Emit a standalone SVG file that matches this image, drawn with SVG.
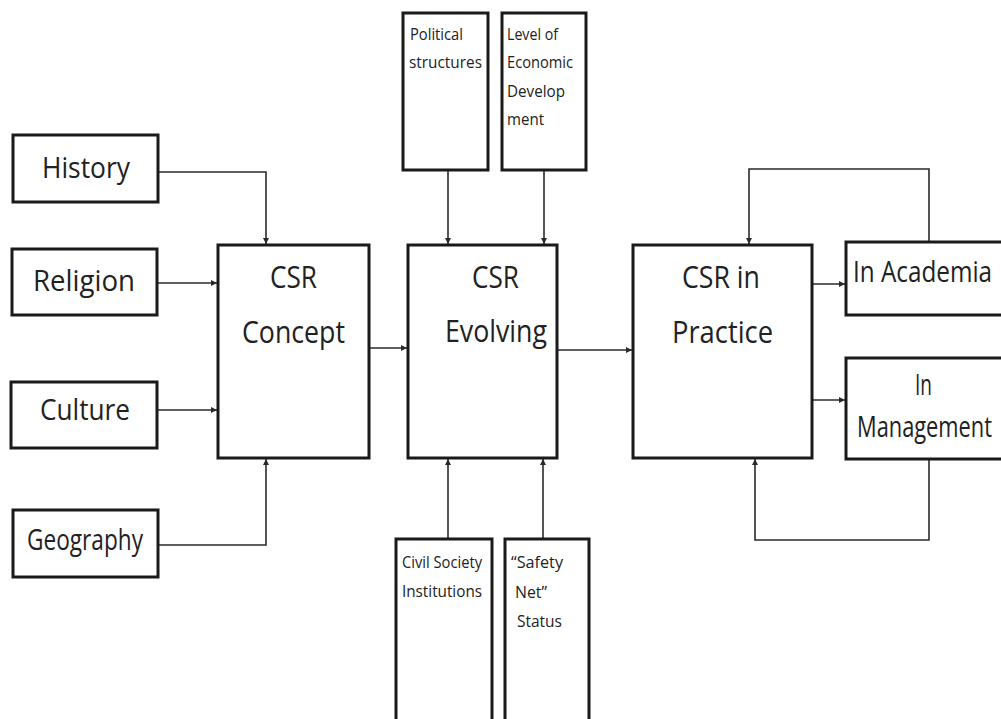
<svg xmlns="http://www.w3.org/2000/svg" width="1001" height="719" viewBox="0 0 1001 719">
<defs>
<style>
.box{fill:#fff;stroke:#1a1a1a;stroke-width:3}
.con{fill:none;stroke:#2a2a2a;stroke-width:1.6}
.big{font-family:"Open Sans","Liberation Sans",sans-serif;font-size:31px;fill:#222}
.mid{font-family:"Open Sans","Liberation Sans",sans-serif;font-size:29px;fill:#222}
.sm{font-family:"Open Sans","Liberation Sans",sans-serif;font-size:16px;fill:#222}
</style>
<marker id="ah" viewBox="0 0 10 10" refX="10" refY="5" markerWidth="6" markerHeight="6" orient="auto" markerUnits="userSpaceOnUse">
<path d="M0,0 L10,5 L0,10 z" fill="#2a2a2a"/>
</marker>
</defs>
<rect width="1001" height="719" fill="#fff"/>
<g id="connectors">
<path class="con" d="M158,172 H266 V244" marker-end="url(#ah)"/>
<path class="con" d="M157,283 H217" marker-end="url(#ah)"/>
<path class="con" d="M157,410 H217" marker-end="url(#ah)"/>
<path class="con" d="M158,545 H266 V459" marker-end="url(#ah)"/>
<path class="con" d="M369,348 H407" marker-end="url(#ah)"/>
<path class="con" d="M448,170 V244" marker-end="url(#ah)"/>
<path class="con" d="M544,170 V244" marker-end="url(#ah)"/>
<path class="con" d="M448,539 V459" marker-end="url(#ah)"/>
<path class="con" d="M543,539 V459" marker-end="url(#ah)"/>
<path class="con" d="M557,350 H632" marker-end="url(#ah)"/>
<path class="con" d="M812,284 H845" marker-end="url(#ah)"/>
<path class="con" d="M812,400 H845" marker-end="url(#ah)"/>
<path class="con" d="M929,242 V169 H749 V244" marker-end="url(#ah)"/>
<path class="con" d="M929,459 V540 H755 V459" marker-end="url(#ah)"/>
</g>
<g id="history"><rect class="box" x="13" y="135" width="145" height="67"/><text class="mid" x="42" y="178" textLength="88" lengthAdjust="spacingAndGlyphs">History</text></g>
<g id="religion"><rect class="box" x="12" y="249" width="145" height="66"/><text class="mid" x="33" y="291" textLength="102" lengthAdjust="spacingAndGlyphs">Religion</text></g>
<g id="culture"><rect class="box" x="11" y="382" width="146" height="66"/><text class="mid" x="40" y="420" textLength="90" lengthAdjust="spacingAndGlyphs">Culture</text></g>
<g id="geography"><rect class="box" x="13" y="510" width="145" height="67"/><text class="mid" x="27" y="550" font-size="26" textLength="116" lengthAdjust="spacingAndGlyphs">Geography</text></g>
<g id="csr-concept"><rect class="box" x="218" y="245" width="151" height="213"/><text class="big" x="270" y="288" textLength="47" lengthAdjust="spacingAndGlyphs">CSR</text><text class="big" x="242" y="343" textLength="103" lengthAdjust="spacingAndGlyphs">Concept</text></g>
<g id="csr-evolving"><rect class="box" x="408" y="245" width="149" height="213"/><text class="big" x="472" y="288" textLength="47" lengthAdjust="spacingAndGlyphs">CSR</text><text class="big" x="445" y="342" textLength="102" lengthAdjust="spacingAndGlyphs">Evolving</text></g>
<g id="csr-practice"><rect class="box" x="633" y="245" width="179" height="213"/><text class="big" x="682" y="288" textLength="78" lengthAdjust="spacingAndGlyphs">CSR in</text><text class="big" x="672" y="343" textLength="101" lengthAdjust="spacingAndGlyphs">Practice</text></g>
<g id="political"><rect class="box" x="403" y="13" width="85" height="157"/><text class="sm" x="410" y="40" textLength="53" lengthAdjust="spacingAndGlyphs">Political</text><text class="sm" x="409" y="68" textLength="73" lengthAdjust="spacingAndGlyphs">structures</text></g>
<g id="economic"><rect class="box" x="502" y="13" width="84" height="157"/><text class="sm" x="507" y="40" textLength="51" lengthAdjust="spacingAndGlyphs">Level of</text><text class="sm" x="507" y="68" textLength="66" lengthAdjust="spacingAndGlyphs">Economic</text><text class="sm" x="507" y="97" textLength="58" lengthAdjust="spacingAndGlyphs">Develop</text><text class="sm" x="507" y="125" textLength="37" lengthAdjust="spacingAndGlyphs">ment</text></g>
<g id="civil"><rect class="box" x="396" y="539" width="96" height="190"/><text class="sm" x="402" y="568" textLength="80" lengthAdjust="spacingAndGlyphs">Civil Society</text><text class="sm" x="402" y="597" textLength="80" lengthAdjust="spacingAndGlyphs">Institutions</text></g>
<g id="safety"><rect class="box" x="505" y="539" width="84" height="190"/><text class="sm" x="511" y="568" textLength="52" lengthAdjust="spacingAndGlyphs">“Safety</text><text class="sm" x="515" y="598" textLength="32" lengthAdjust="spacingAndGlyphs">Net”</text><text class="sm" x="517" y="627" textLength="45" lengthAdjust="spacingAndGlyphs">Status</text></g>
<g id="academia"><rect class="box" x="846" y="242" width="165" height="73"/><text class="mid" x="853" y="282" textLength="139" lengthAdjust="spacingAndGlyphs">In Academia</text></g>
<g id="management"><rect class="box" x="846" y="358" width="165" height="101"/><text class="mid" x="915" y="395" textLength="17" lengthAdjust="spacingAndGlyphs">In</text><text class="mid" x="857" y="437" textLength="135" lengthAdjust="spacingAndGlyphs">Management</text></g>
</svg>
